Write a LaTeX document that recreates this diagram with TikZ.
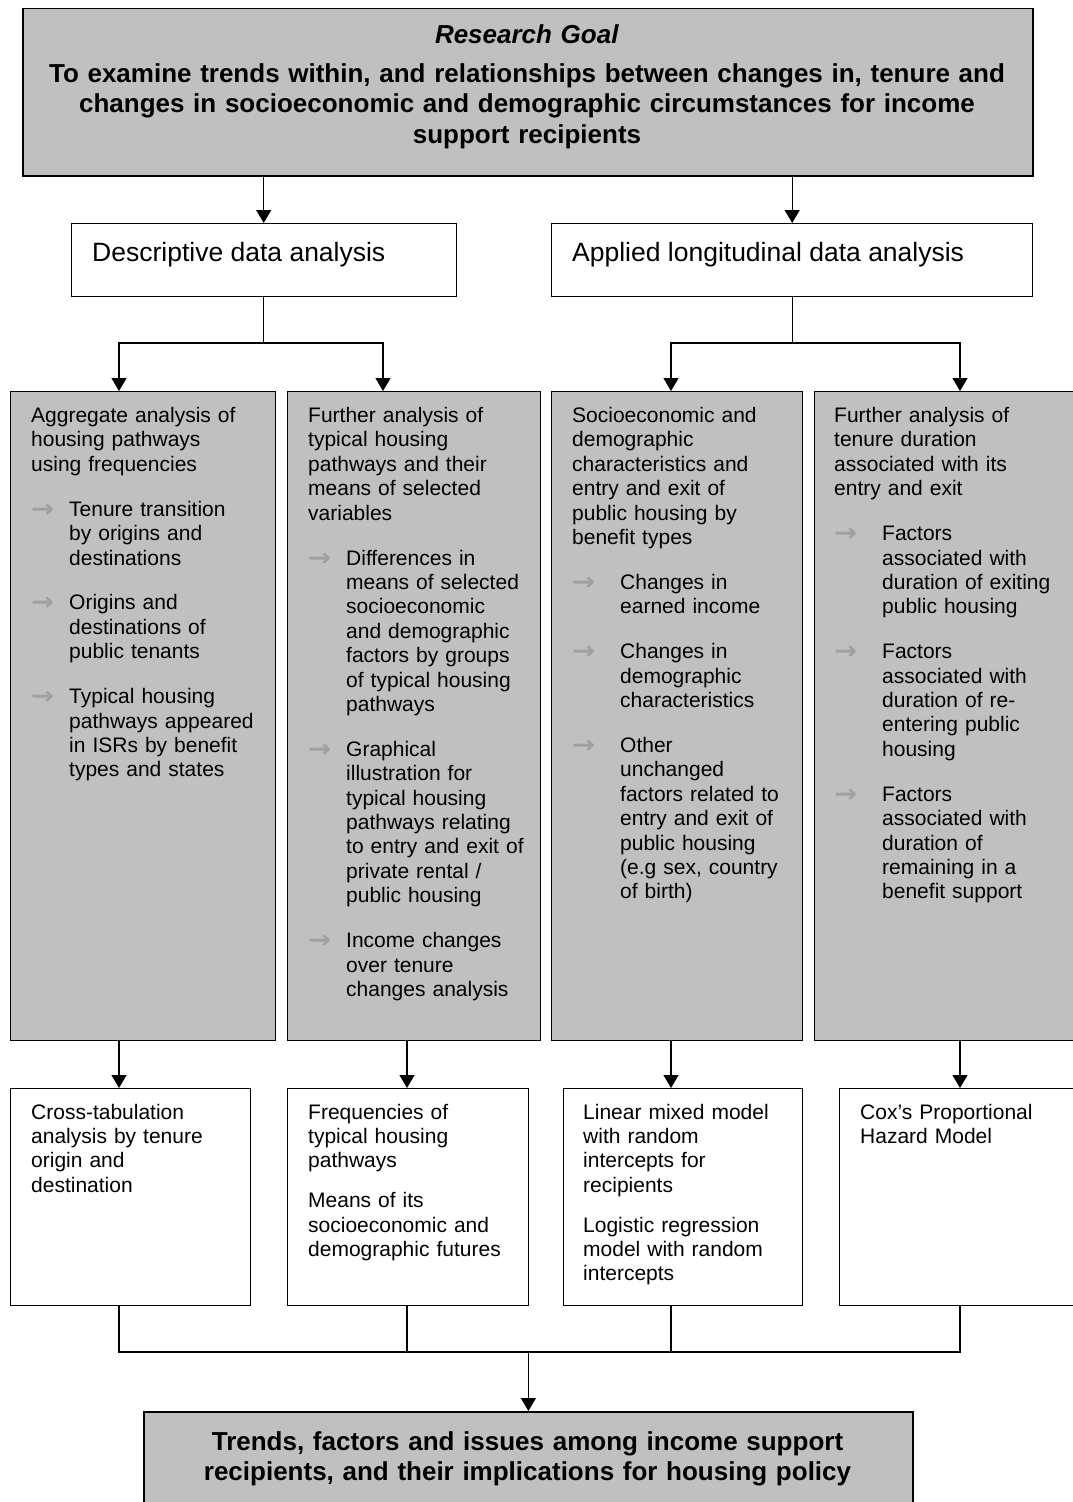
\documentclass[tikz,border=0pt]{standalone}
\usepackage{fontspec}
\usepackage{graphicx}
\setmainfont{Liberation Sans}
\newfontfamily\arrfont{DejaVu Sans}
\usetikzlibrary{arrows.meta}
\definecolor{boxgray}{RGB}{192,192,192}
\definecolor{bulgray}{RGB}{160,160,160}
\newcommand{\bularrow}{{\color{bulgray}\arrfont\bfseries\fontsize{25}{24}\selectfont\raisebox{-1pt}{\scalebox{1.1}[1]{→}}}}
\newcommand{\bul}[2][38pt]{\par\vspace{20.5pt}\noindent\hangindent=#1\hangafter=1\makebox[#1][l]{\bularrow}#2\par}
\newcommand{\wpar}{\par\vspace{15.5pt}\noindent}
\begin{document}
\begin{tikzpicture}[x=1pt,y=-1pt,
  box/.style={draw, line width=1.4pt, anchor=north west, inner sep=0pt},
  gbox/.style={box, fill=boxgray},
  wbox/.style={box, fill=white},
  body/.style={anchor=base west, inner sep=0pt, text width=250pt, align=left,
    font=\fontsize{21}{24.4}\selectfont},
  head/.style={anchor=base west, inner sep=0pt, font=\fontsize{26.5}{30}\selectfont},
  conn/.style={line width=1.3pt},
  arr/.style={conn, -{Triangle[length=13pt,width=15pt]}},
]
\useasboundingbox (0,0) rectangle (1073,1502);
\clip (0,0) rectangle (1073,1502);

% column coordinates
\coordinate (x1) at (119,0);
\coordinate (x2t) at (383,0);
\coordinate (x2) at (407,0);
\coordinate (x3) at (671,0);
\coordinate (x4) at (960,0);
\coordinate (jd) at (0,343);
\coordinate (jb) at (0,1352);

% top box
\node[gbox, line width=1.8pt, minimum width=1010pt, minimum height=167.5pt] (T) at (22,7.5) {};
\node[anchor=base, inner sep=0pt, text width=1000pt, align=center,
  font=\bfseries\fontsize{26}{30.5}\selectfont] (Tt) at (527,43)
  {\textit{Research Goal}\\[8.5pt]
   To examine trends within, and relationships between changes in, tenure and\\
   changes in socioeconomic and demographic circumstances for income\\
   support recipients};

% second level
\node[wbox, minimum width=385pt, minimum height=73pt] (D1) at (70.5,223) {};
\node[head] (D1t) at (92,261) {Descriptive data analysis};
\node[wbox, minimum width=481pt, minimum height=73pt] (A1) at (551,223) {};
\node[head] (A1t) at (572,261) {Applied longitudinal data analysis};

% gray boxes
\node[gbox, minimum width=265pt, minimum height=649pt] (b1) at (10,391) {};
\node[gbox, minimum width=253pt, minimum height=649pt] (b2) at (287,391) {};
\node[gbox, minimum width=251pt, minimum height=649pt] (b3) at (551,391) {};
\node[gbox, minimum width=280pt, minimum height=649pt] (b4) at (814,391) {};

\node[body] (b1t) at ([shift={(21,31.5)}]b1.north west)
  {Aggregate analysis of\newline housing pathways\newline using frequencies
   \bul{Tenure transition\newline by origins and\newline destinations}
   \bul{Origins and\newline destinations of\newline public tenants}
   \bul{Typical housing\newline pathways appeared\newline in ISRs by benefit\newline types and states}};

\node[body] (b2t) at ([shift={(21,31.5)}]b2.north west)
  {Further analysis of\newline typical housing\newline pathways and their\newline means of selected\newline variables
   \bul{Differences in\newline means of selected\newline socioeconomic\newline and demographic\newline factors by groups\newline of typical housing\newline pathways}
   \bul{Graphical\newline illustration for\newline typical housing\newline pathways relating\newline to entry and exit of\newline private rental /\newline public housing}
   \bul{Income changes\newline over tenure\newline changes analysis}};

\node[body] (b3t) at ([shift={(21,31.5)}]b3.north west)
  {Socioeconomic and\newline demographic\newline characteristics and\newline entry and exit of\newline public housing by\newline benefit types
   \bul[48pt]{Changes in\newline earned income}
   \bul[48pt]{Changes in\newline demographic\newline characteristics}
   \bul[48pt]{Other\newline unchanged\newline factors related to\newline entry and exit of\newline public housing\newline (e.g sex, country\newline of birth)}};

\node[body] (b4t) at ([shift={(20,31.5)}]b4.north west)
  {Further analysis of\newline tenure duration\newline associated with its\newline entry and exit
   \bul[48pt]{Factors\newline associated with\newline duration of exiting\newline public housing}
   \bul[48pt]{Factors\newline associated with\newline duration of re-\newline entering public\newline housing}
   \bul[48pt]{Factors\newline associated with\newline duration of\newline remaining in a\newline benefit support}};

% white boxes
\node[wbox, minimum width=240pt, minimum height=217pt] (wA) at (10,1088) {};
\node[wbox, minimum width=241pt, minimum height=217pt] (wB) at (287,1088) {};
\node[wbox, minimum width=239pt, minimum height=217pt] (wC) at (563,1088) {};
\node[wbox, minimum width=260pt, minimum height=217pt] (wD) at (839,1088) {};

\node[body] (wAt) at ([shift={(21,31)}]wA.north west)
  {Cross-tabulation\newline analysis by tenure\newline origin and\newline destination};
\node[body] (wBt) at ([shift={(21,31)}]wB.north west)
  {Frequencies of\newline typical housing\newline pathways
   \wpar Means of its\newline socioeconomic and\newline demographic futures};
\node[body] (wCt) at ([shift={(20,31)}]wC.north west)
  {Linear mixed model\newline with random\newline intercepts for\newline recipients
   \wpar Logistic regression\newline model with random\newline intercepts};
\node[body] (wDt) at ([shift={(21,31)}]wD.north west)
  {Cox’s Proportional\newline Hazard Model};

% final box
\node[gbox, line width=1.8pt, minimum width=769pt, minimum height=140pt] (F) at (143,1411) {};
\node[anchor=base, inner sep=0pt, text width=760pt, align=center,
  font=\bfseries\fontsize{26}{30}\selectfont] (Ft) at (527.5,1450)
  {Trends, factors and issues among income support\\
   recipients, and their implications for housing policy};

% connectors: top level
\draw[arr] (T.south -| D1.north) -- (D1.north);
\draw[arr] (T.south -| A1.north) -- (A1.north);

\draw[conn] (D1.south) -- (D1.south |- jd);
\draw[arr] (D1.south |- jd) -| (x1 |- b1.north);
\draw[arr] (D1.south |- jd) -| (x2t |- b2.north);

\draw[conn] (A1.south) -- (A1.south |- jd);
\draw[arr] (A1.south |- jd) -| (x3 |- b3.north);
\draw[arr] (A1.south |- jd) -| (x4 |- b4.north);

% gray to white
\draw[arr] (x1 |- b1.south) -- (x1 |- wA.north);
\draw[arr] (x2 |- b2.south) -- (x2 |- wB.north);
\draw[arr] (x3 |- b3.south) -- (x3 |- wC.north);
\draw[arr] (x4 |- b4.south) -- (x4 |- wD.north);

% white to final
\draw[conn] (x1 |- wA.south) -- (x1 |- jb) -- (x4 |- jb) -- (x4 |- wD.south);
\draw[conn] (x2 |- wB.south) -- (x2 |- jb);
\draw[conn] (x3 |- wC.south) -- (x3 |- jb);
\draw[arr] (F.north |- jb) -- (F.north);
\end{tikzpicture}
\end{document}
